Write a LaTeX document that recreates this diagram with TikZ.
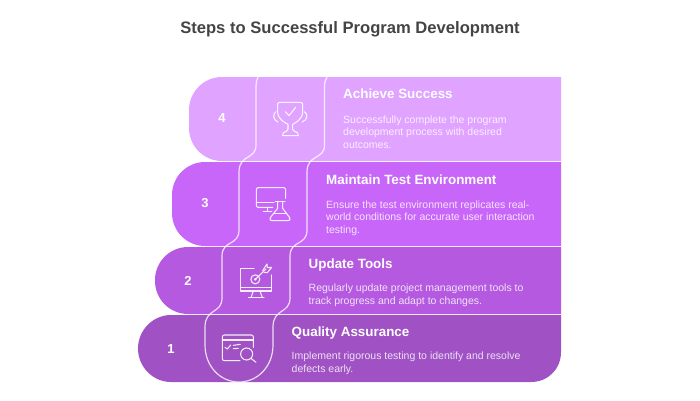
\documentclass[tikz,border=0pt]{standalone}
\usepackage{fontspec}
\setmainfont{Liberation Sans}
\definecolor{cfour}{HTML}{E0A3FF}
\definecolor{cthree}{HTML}{C966FA}
\definecolor{ctwo}{HTML}{B55AE0}
\definecolor{cone}{HTML}{A052C5}
\definecolor{ctitle}{HTML}{444444}
\tikzset{
  band/.style={draw=none},
  seam/.style={draw=white,draw opacity=.8,line width=1.2pt,fill=none},
  icon/.style={draw=white,draw opacity=.9,line width=1.05pt,line cap=round,line join=round,fill=none},
  heading/.style={anchor=west,inner sep=0pt,text=white,font=\fontsize{13.4}{16}\selectfont\bfseries},
  bodytext/.style={anchor=north west,inner sep=0pt,text=white,text opacity=.82,align=left,font=\fontsize{10.5}{12.8}\selectfont},
  stepnum/.style={inner sep=0pt,text=white,font=\fontsize{13}{15}\selectfont\bfseries},
}
\begin{document}
\begin{tikzpicture}[x=1pt,y=-1pt]
\useasboundingbox (0,0) rectangle (700,400);
\node[inner sep=0pt,text=ctitle,font=\fontsize{16.6}{20}\selectfont\bfseries] (title) at (350,29) {Steps to Successful Program Development};
% bands
\fill[band,cfour] (561,77) [rounded corners=33pt] -- (189,77) -- (189,161) [sharp corners] -- (561,161) -- cycle;
\fill[band,cthree] (561,162) [rounded corners=33pt] -- (172,162) -- (172,246) [sharp corners] -- (561,246) -- cycle;
\fill[band,ctwo] (561,247) [rounded corners=33pt] -- (155,247) -- (155,314) [sharp corners] -- (561,314) -- cycle;
\fill[band,cone] (561,315) -- (171,315) .. controls (153,315) and (138,330) .. (138,348.5) .. controls (138,367) and (153,382) .. (171,382) -- (531,382) .. controls (548,382) and (561,369) .. (561,352) -- cycle;
% seams
\draw[seam] (258,77) .. controls (256.5,80) and (256,83) .. (256,88) -- (256,145) .. controls (256,160) and (239,154) .. (239,172)
  -- (239,230) .. controls (239,246) and (222,240) .. (222,256)
  -- (222,298) .. controls (222,314) and (205,308) .. (205,327)
  -- (205,345) .. controls (205,366) and (220,382) .. (239,382)
  .. controls (258,382) and (273,366) .. (273,345)
  -- (273,327) .. controls (273,308) and (290,314) .. (290,298)
  -- (290,256) .. controls (290,240) and (307,246) .. (307,230)
  -- (307,172) .. controls (307,154) and (324.5,160) .. (324.5,145)
  -- (324.5,88) .. controls (324.5,83) and (325,80) .. (327,77);
% numbers
\node[stepnum] (n4) at (222,118.5) {4};
\node[stepnum] (n3) at (205,203.5) {3};
\node[stepnum] (n2) at (188,281) {2};
\node[stepnum] (n1) at (171,349) {1};
% text
\node[heading] (h4) at (343,94) {Achieve Success};
\node[bodytext] (b4) at (343,115.3) {Successfully complete the program\\development process with desired\\outcomes.};
\node[heading] (h3) at (326,179.5) {Maintain Test Environment};
\node[bodytext] (b3) at (326,200.3) {Ensure the test environment replicates real-\\world conditions for accurate user interaction\\testing.};
\node[heading] (h2) at (308.5,265) {Update Tools};
\node[bodytext] (b2) at (308.5,283.5) {Regularly update project management tools to\\track progress and adapt to changes.};
\node[heading] (h1) at (291.5,333) {Quality Assurance};
\node[bodytext] (b1) at (291.5,352) {Implement rigorous testing to identify and resolve\\defects early.};
% trophy icon
\begin{scope}[shift={(130,70)},x=.3333pt,y=-.3333pt]
\draw[icon] (443,101) [rounded corners=2pt] -- (443,97) -- (518,97) [sharp corners] -- (518,125) .. controls (518,148) and (497,158) .. (488,163) -- (488,178) .. controls (488,183) and (497,186) .. (503,188) -- (505,197) -- (458,197) -- (460,188) .. controls (466,186) and (474,183) .. (474,178) -- (474,163) .. controls (465,158) and (443,148) .. (443,125) -- cycle;
\draw[icon] (438,125) .. controls (428,130) and (428,150) .. (444,156);
\draw[icon] (523,125) .. controls (534,130) and (534,150) .. (517,156);
\draw[icon] (466,125) -- (477,137) -- (497,112);
% monitor and flask
\draw[icon] (467,385) -- (467,360) [rounded corners=2pt] -- (467,353) -- (379,353) -- (379,412) [sharp corners] -- (428,412);
\draw[icon] (379,398) -- (432,398);
\draw[icon] (412,412) -- (412,425);
\draw[icon] (400,425) -- (425,425);
\draw[icon] (436,394) -- (465,394);
\draw[icon] (443,394) -- (443,415) -- (421,443) .. controls (418,449) and (421,452) .. (426,452) -- (474,452) .. controls (479,452) and (482,449) .. (479,443) -- (458,415) -- (458,394);
\draw[icon] (431,431) -- (470,431);
\end{scope}
\begin{scope}[shift={(130,230)},x=.3333pt,y=-.3333pt]
% monitor and target
\draw[icon] (372,115) -- (332,115) -- (332,183) -- (424,183) -- (424,135);
\draw[icon] (332,172) -- (424,172);
\draw[icon] (370,183) -- (363,203);
\draw[icon] (390,183) -- (397,203);
\draw[icon] (355,203) -- (402,203);
\draw[icon] (376,148) circle[radius=13.5];
\draw[icon] (376,148) circle[radius=2.5];
\draw[icon] (376,148) -- (408,117);
\draw[icon] (398,122) -- (411,102) -- (412,113) -- (425,112) -- (412,128) -- (402,127);
% window and magnifier
\draw[icon] (370,352) -- (370,320) [rounded corners=2pt] -- (370,315) -- (277,315) -- (277,392) [sharp corners] -- (330,392);
\draw[icon] (277,330) -- (370,330);
\draw[icon] (285,352) -- (292,357) -- (302,345);
\draw[icon] (310,346) -- (331,343);
\draw[icon] (310,356) -- (325,355);
\draw[icon] (350,372) circle[radius=18];
\draw[icon] (363,385) -- (378,397);
\end{scope}
\end{tikzpicture}
\end{document}
